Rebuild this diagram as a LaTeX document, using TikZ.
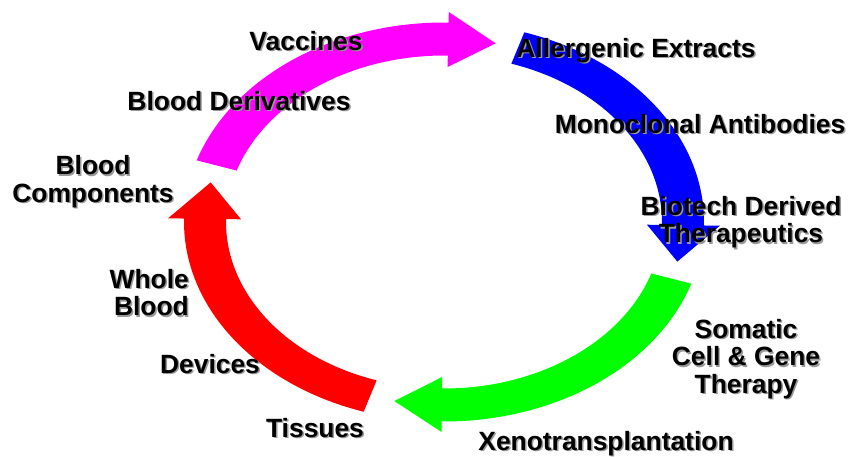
\documentclass[tikz,border=0pt]{standalone}
\usepackage{fontspec}
\setmainfont{Liberation Sans}
\definecolor{cmag}{RGB}{255,0,255}
\definecolor{cblue}{RGB}{0,0,255}
\definecolor{cgreen}{RGB}{0,255,0}
\definecolor{cred}{RGB}{255,0,0}
\newcommand\shd[1]{\makebox[0pt][l]{\kern1.5pt\raisebox{-1.5pt}{\color{black!40}#1}}#1}
% color, tail angle, head base angle, tip angle
\newcommand\cyclearrow[4]{%
  \fill[#1] plot[domain=#2:#3, samples=60] ({444+260*cos(\x)},{222+199.5*sin(\x)})
    -- ({444+276*cos(#3)},{222+210*sin(#3)})
    -- ({444+239*cos(#4)},{222+183*sin(#4)})
    -- ({444+203*cos(#3)},{222+155*sin(#3)})
    -- plot[domain=#3:#2, samples=60] ({444+218*cos(\x)},{222+166.5*sin(\x)})
    -- cycle;}
\begin{document}
\begin{tikzpicture}[x=1pt,y=-1pt,
  lbl/.style={inner sep=0pt, font=\bfseries\fontsize{26.4}{27.5}\selectfont},
  one/.style={lbl, anchor=base}]
\useasboundingbox (0,0) rectangle (848,456);
\cyclearrow{cmag}{198}{271}{282.5}
\cyclearrow{cblue}{288}{361}{372.5}
\cyclearrow{cgreen}{18}{90.5}{102}
\cyclearrow{cred}{108}{181}{192.5}
\node[one] (vac) at (306,50) {\shd{Vaccines}};
\node[one] (bder) at (239,110) {\shd{Blood Derivatives}};
\node[one] (aller) at (636,57) {\shd{Allergenic Extracts}};
\node[one] (mono) at (700,133) {\shd{Monoclonal Antibodies}};
\node[lbl, align=center] (bio) at (741,223.5) {\strut\shd{Biotech Derived}\\\strut\shd{Therapeutics}};
\node[lbl, align=center] (som) at (746,360) {\strut\shd{Somatic}\\\strut\shd{Cell \& Gene}\\\strut\shd{Therapy}};
\node[one] (xeno) at (606,450) {\shd{Xenotransplantation}};
\node[one] (tis) at (315,437) {\shd{Tissues}};
\node[one] (dev) at (210,373) {\shd{Devices}};
\node[lbl, align=right, anchor=east] (whole) at (189,296.5) {\strut\shd{Whole}\\\strut\shd{Blood}};
\node[lbl, align=center] (bcomp) at (93,183) {\strut\shd{Blood}\\\strut\shd{Components}};
\end{tikzpicture}
\end{document}
